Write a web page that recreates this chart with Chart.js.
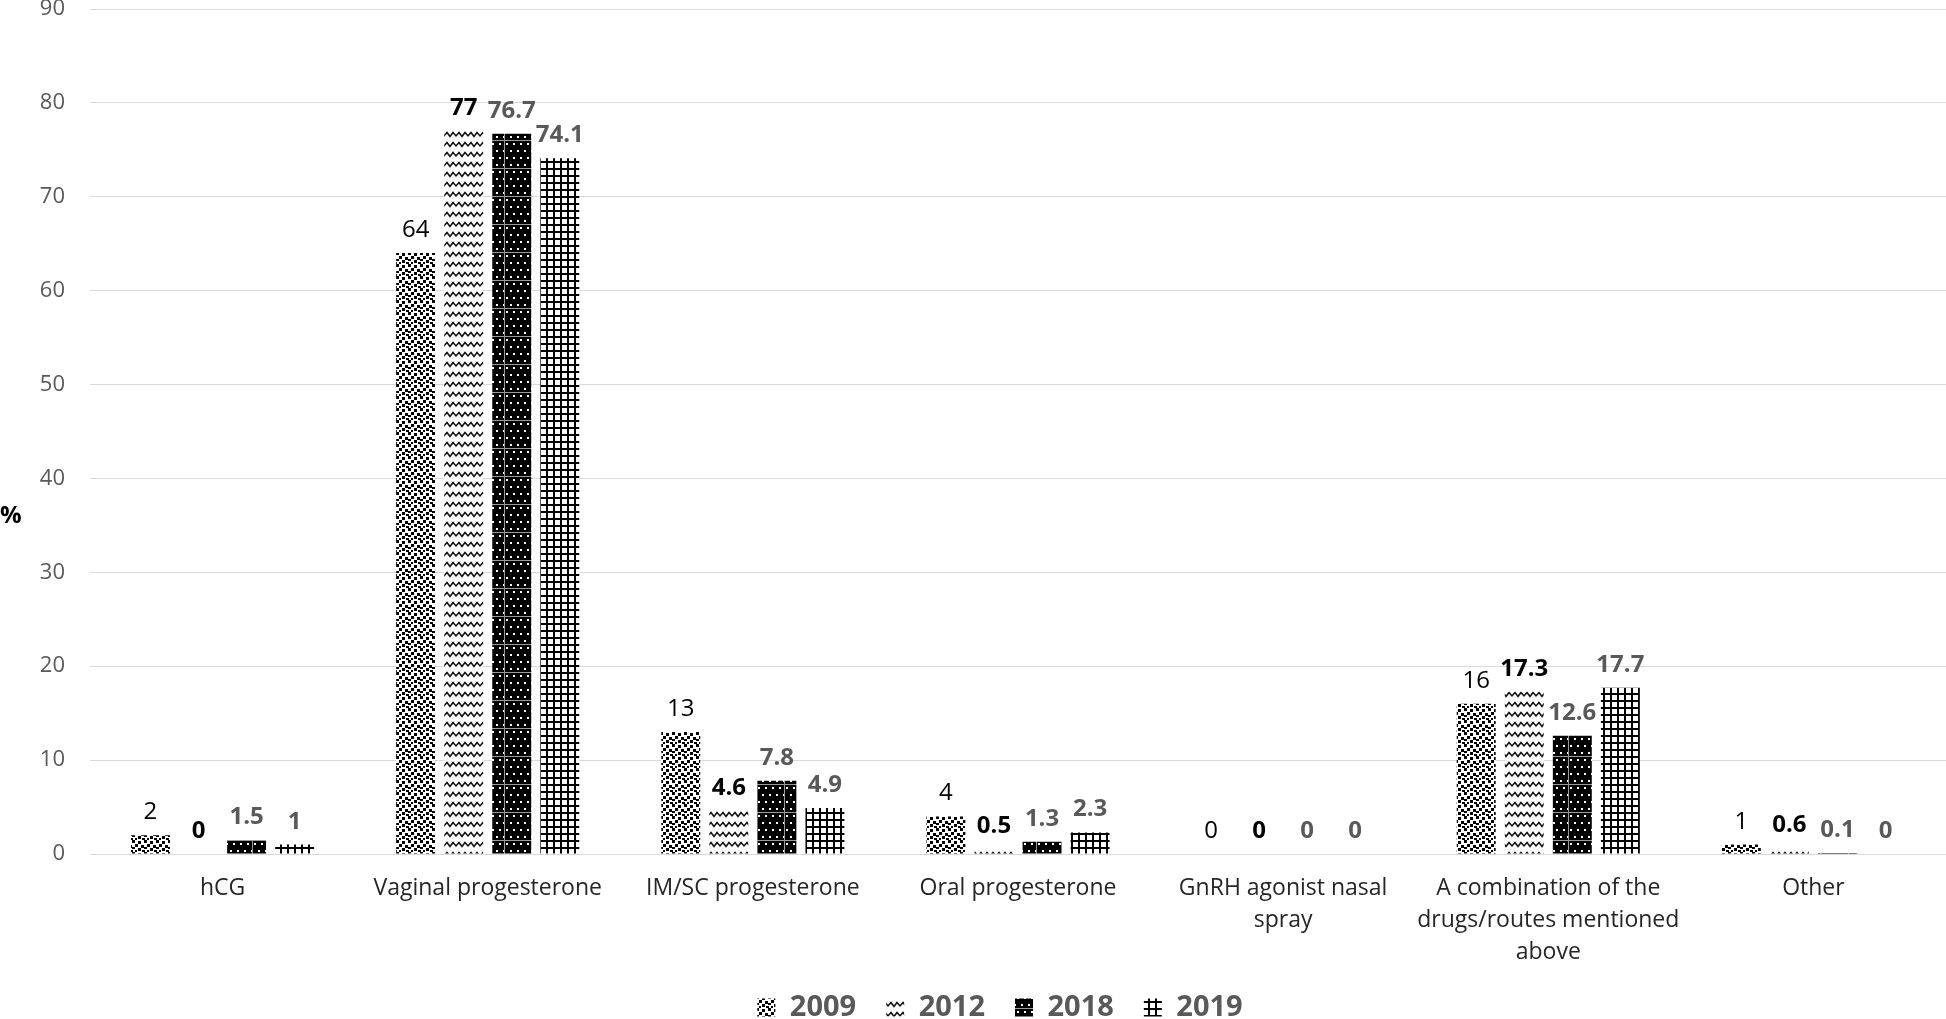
<!DOCTYPE html>
<html>
<head>
<meta charset="utf-8">
<script src="https://cdn.jsdelivr.net/npm/chart.js@4/dist/chart.umd.min.js"></script>
<style>
html,body{margin:0;padding:0;background:#fff;}
#wrap{width:1946px;height:1019px;position:relative;}
</style>
</head>
<body>
<div id="wrap"><canvas id="c" width="1946" height="1019"></canvas></div>
<script>
const categories = [
  "hCG",
  "Vaginal progesterone",
  "IM/SC progesterone",
  "Oral progesterone",
  ["GnRH agonist nasal", "spray"],
  ["A combination of the", "drugs/routes mentioned", "above"],
  "Other"
];
const seriesNames = ["2009", "2012", "2018", "2019"];
const values2009 = [2, 64, 13, 4, 0, 16, 1];
const values2012 = [0, 77, 4.6, 0.5, 0, 17.3, 0.6];
const values2018 = [1.5, 76.7, 7.8, 1.3, 0, 12.6, 0.1];
const values2019 = [1, 74.1, 4.9, 2.3, 0, 17.7, 0];
const yTicks = [0, 10, 20, 30, 40, 50, 60, 70, 80, 90];

function tile(w, h, draw) {
  const c = document.createElement('canvas');
  c.width = w; c.height = h;
  const g = c.getContext('2d');
  draw(g, w, h);
  return document.getElementById('c').getContext('2d').createPattern(c, 'repeat');
}
const pat2009 = tile(12, 12, (g) => {
  g.fillStyle = '#fff'; g.fillRect(0, 0, 12, 12);
  g.fillStyle = '#000';
  [[0,0,3,3],[6,1,3,3],[3,4,3,3],[9,5,3,3],[0,7,3,2],[6,8,3,3],[3,10,2,2],[10,10,2,2],[0,10,1,2]].forEach(r => g.fillRect(r[0], r[1], r[2], r[3]));
});
const pat2012 = tile(12, 10, (g) => {
  g.fillStyle = '#fff'; g.fillRect(0, 0, 12, 10);
  g.strokeStyle = '#111'; g.lineWidth = 1.6;
  g.beginPath(); g.moveTo(-1, 7); g.lineTo(3, 2.5); g.lineTo(6, 6.5); g.lineTo(9, 2.5); g.lineTo(13, 7); g.stroke();
});
const pat2018 = tile(28, 28, (g) => {
  g.fillStyle = '#000'; g.fillRect(0, 0, 28, 28);
  g.fillStyle = '#fff';
  for (let r = 0; r < 4; r++) {
    for (let k = 0; k < 4; k++) {
      const x = k * 7 + (r % 2 ? 3.5 : 0) + 2;
      const y = r * 7 + 3;
      g.fillRect(Math.round(x), y, 2, 2);
    }
  }
  g.fillStyle = '#9a9a9a';
  g.fillRect(0, 0, 28, 1);
  g.fillRect(0, 0, 1, 28);
});
const pat2019 = tile(7, 7, (g) => {
  g.fillStyle = '#fff'; g.fillRect(0, 0, 7, 7);
  g.fillStyle = '#000';
  g.fillRect(0, 0, 7, 2);
  g.fillRect(0, 0, 2, 7);
});

const labelStyles = [
  {weight: 'normal', color: '#000000'},
  {weight: 'bold', color: '#000000'},
  {weight: 'bold', color: '#595959'},
  {weight: 'bold', color: '#595959'}
];

const FONT = "'Open Sans', 'DejaVu Sans', sans-serif";

const dataLabelPlugin = {
  id: 'dataLabels',
  afterDatasetsDraw(chart) {
    const ctx = chart.ctx;
    chart.data.datasets.forEach((ds, di) => {
      const meta = chart.getDatasetMeta(di);
      const st = labelStyles[di];
      ctx.save();
      ctx.font = st.weight + ' 24px ' + FONT;
      ctx.fillStyle = st.color;
      ctx.textAlign = 'center';
      ctx.textBaseline = 'alphabetic';
      meta.data.forEach((bar, i) => {
        ctx.fillText(String(ds.data[i]), bar.x, bar.y - 16);
      });
      ctx.restore();
    });
  }
};
const yTitlePlugin = {
  id: 'yTitle',
  afterDraw(chart) {
    const ctx = chart.ctx;
    ctx.save();
    ctx.font = 'bold 24px ' + FONT;
    ctx.fillStyle = '#000';
    ctx.textAlign = 'left';
    ctx.textBaseline = 'middle';
    ctx.fillText('%', 0, 516);
    ctx.restore();
  }
};
const layoutTweakPlugin = {
  id: 'layoutTweak',
  afterLayout(chart) {
    if (chart.legend) { chart.legend.left += 27; chart.legend.right += 27; }
    if (chart.scales.x) { chart.scales.x._computeLabelArea = function () { return undefined; }; }
  }
};

const pats = [pat2009, pat2012, pat2018, pat2019];
const allValues = [values2009, values2012, values2018, values2019];

new Chart(document.getElementById('c'), {
  type: 'bar',
  data: {
    labels: categories,
    datasets: seriesNames.map((n, i) => ({
      label: n,
      data: allValues[i],
      backgroundColor: pats[i],
      borderWidth: 0,
      categoryPercentage: 0.725,
      barPercentage: 0.81
    }))
  },
  options: {
    responsive: false,
    animation: false,
    layout: {padding: {top: 9, right: 0, left: 0, bottom: -13}},
    plugins: {
      legend: {
        position: 'bottom',
        labels: {
          boxWidth: 18,
          boxHeight: 18,
          padding: 30,
          color: '#595959',
          font: {family: FONT, size: 29, weight: 'bold'}
        }
      },
      tooltip: {enabled: false}
    },
    scales: {
      x: {
        afterFit(scale) { scale.height = 109; scale.paddingLeft = 0; scale.paddingRight = 0; },
        grid: {display: false},
        border: {display: true, color: '#d9d9d9', width: 1},
        ticks: {
          color: '#262626',
          padding: 10,
          maxRotation: 0,
          autoSkip: false,
          font: {family: FONT, size: 23, lineHeight: 1.4}
        }
      },
      y: {
        min: 0,
        max: 90,
        afterBuildTicks(scale) { scale.ticks = yTicks.map(v => ({value: v})); },
        afterFit(scale) { scale.width = 90; scale.paddingTop = 0; scale.paddingBottom = 0; },
        grid: {color: '#d9d9d9', drawTicks: false},
        border: {display: false},
        ticks: {
          color: '#595959',
          padding: 25,
          font: {family: FONT, size: 22}
        }
      }
    }
  },
  plugins: [dataLabelPlugin, yTitlePlugin, layoutTweakPlugin]
});
</script>
</body>
</html>
